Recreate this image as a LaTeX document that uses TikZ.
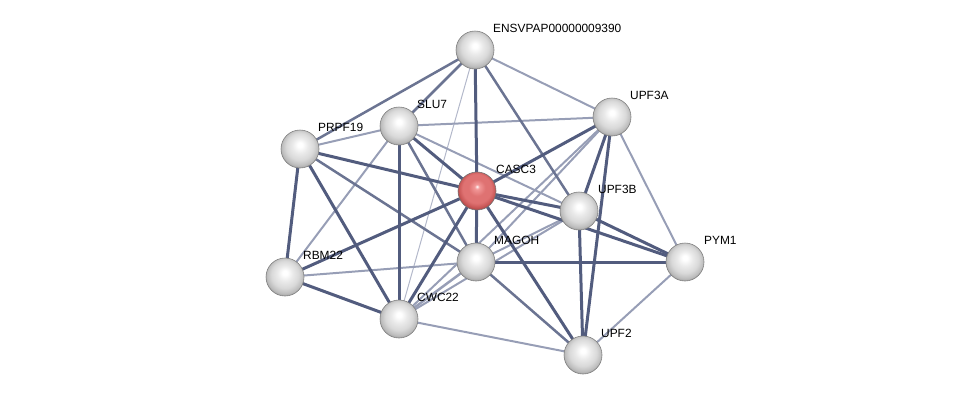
\documentclass[tikz,border=0pt]{standalone}
\usepackage{fontspec}
\setmainfont{Liberation Sans}
\usetikzlibrary{backgrounds}
\definecolor{edgeA}{HTML}{525C7E}
\definecolor{edgeB}{HTML}{6B7492}
\definecolor{edgeC}{HTML}{979EB6}
\definecolor{edgeD}{HTML}{B3B8CA}
\definecolor{redA}{HTML}{F29898}
\definecolor{redB}{HTML}{DF7272}
\definecolor{redC}{HTML}{C85656}
\definecolor{redD}{HTML}{A03E3E}
\pgfdeclareradialshading{greyball}{\pgfpoint{0bp}{6bp}}{color(0bp)=(white); color(3bp)=(white); color(10bp)=(black!8); color(18bp)=(black!15); color(24bp)=(black!26); color(28bp)=(black!40); color(40bp)=(black!55)}
\pgfdeclareradialshading{redball}{\pgfpoint{0bp}{6bp}}{color(0bp)=(white); color(3bp)=(redA); color(11bp)=(redB); color(19bp)=(redB); color(24bp)=(redC); color(28bp)=(redD); color(40bp)=(redD)}
\tikzset{
  prot/.style={circle, minimum size=38pt, inner sep=0pt, shading=greyball, draw=black!50, line width=0.6pt},
  protred/.style={prot, shading=redball, draw=black!55},
  lbl/.style={anchor=west, font=\fontsize{11.9}{13}\selectfont, inner sep=0pt},
  ethick/.style={draw=edgeA, line width=3pt},
  emed/.style={draw=edgeB, line width=2.5pt},
  elight/.style={draw=edgeC, line width=2pt},
  ethin/.style={draw=edgeD, line width=1pt}
}
\begin{document}
\begin{tikzpicture}[x=1pt,y=-1pt]
\useasboundingbox (0,0) rectangle (975,400);
% nodes
\node[prot] (E) at (475,50) {};
\node[prot] (UPF3A) at (612,117) {};
\node[prot] (SLU7) at (399,126) {};
\node[prot] (PRPF19) at (300,149) {};
\node[protred] (CASC3) at (477,191) {};
\node[prot] (UPF3B) at (579,211) {};
\node[prot] (MAGOH) at (476,262) {};
\node[prot] (PYM1) at (685,262) {};
\node[prot] (RBM22) at (285,277) {};
\node[prot] (CWC22) at (399,319) {};
\node[prot] (UPF2) at (583,355) {};
% labels
\node[lbl] (lE) at (493,28) {ENSVPAP00000009390};
\node[lbl] (lUPF3A) at (630,95) {UPF3A};
\node[lbl] (lSLU7) at (417,104) {SLU7};
\node[lbl] (lPRPF19) at (318,127) {PRPF19};
\node[lbl] (lCASC3) at (496,169) {CASC3};
\node[lbl] (lUPF3B) at (598,189) {UPF3B};
\node[lbl] (lMAGOH) at (494,240) {MAGOH};
\node[lbl] (lPYM1) at (704,240) {PYM1};
\node[lbl] (lRBM22) at (303,255) {RBM22};
\node[lbl] (lCWC22) at (417,297) {CWC22};
\node[lbl] (lUPF2) at (601,333) {UPF2};
\begin{scope}[on background layer]
% thin
\draw[ethin] (E.center) -- (CWC22.center);
% light
\draw[elight] (E.center) -- (UPF3A.center);
\draw[elight] (SLU7.center) -- (UPF3A.center);
\draw[elight] (SLU7.center) -- (PRPF19.center);
\draw[elight] (SLU7.center) -- (UPF3B.center);
\draw[elight] (SLU7.center) -- (RBM22.center);
\draw[elight] (RBM22.center) -- (MAGOH.center);
\draw[elight, line width=2.5pt] (MAGOH.center) -- (CWC22.center);
\draw[elight] (MAGOH.center) -- (UPF3B.center);
\draw[elight] (CWC22.center) -- (UPF3B.center);
\draw[elight] (UPF3A.center) -- (MAGOH.center);
\draw[elight] (UPF3A.center) -- (CWC22.center);
\draw[elight] (UPF3A.center) -- (PYM1.center);
\draw[elight] (PYM1.center) -- (UPF2.center);
\draw[elight] (CWC22.center) -- (UPF2.center);
% medium
\draw[emed] (E.center) -- (PRPF19.center);
\draw[emed] (E.center) -- (SLU7.center);
\draw[emed] (E.center) -- (UPF3B.center);
\draw[emed] (SLU7.center) -- (MAGOH.center);
\draw[emed] (PRPF19.center) -- (MAGOH.center);
\draw[emed] (MAGOH.center) -- (UPF2.center);
% thick
\draw[ethick] (E.center) -- (CASC3.center);
\draw[ethick] (SLU7.center) -- (CASC3.center);
\draw[ethick] (PRPF19.center) -- (CASC3.center);
\draw[ethick] (RBM22.center) -- (CASC3.center);
\draw[ethick] (CWC22.center) -- (CASC3.center);
\draw[ethick] (CASC3.center) -- (MAGOH.center);
\draw[ethick] (CASC3.center) -- (UPF3B.center);
\draw[ethick] (CASC3.center) -- (PYM1.center);
\draw[ethick] (CASC3.center) -- (UPF2.center);
\draw[ethick] (CASC3.center) -- (UPF3A.center);
\draw[ethick] (MAGOH.center) -- (PYM1.center);
\draw[ethick] (UPF3B.center) -- (PYM1.center);
\draw[ethick] (UPF3B.center) -- (UPF2.center);
\draw[ethick] (UPF3A.center) -- (UPF2.center);
\draw[ethick] (UPF3A.center) -- (UPF3B.center);
\draw[ethick] (PRPF19.center) -- (RBM22.center);
\draw[ethick] (RBM22.center) -- (CWC22.center);
\draw[ethick] (PRPF19.center) -- (CWC22.center);
\draw[ethick] (SLU7.center) -- (CWC22.center);
\end{scope}
\end{tikzpicture}
\end{document}
